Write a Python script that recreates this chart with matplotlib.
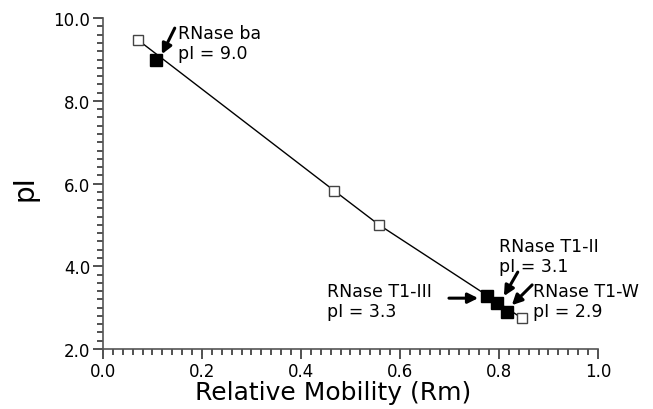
import matplotlib
matplotlib.use("Agg")
import matplotlib.pyplot as plt
from matplotlib.ticker import MultipleLocator, FormatStrFormatter

# Standards (open squares)
std_rm = [0.070, 0.467, 0.558, 0.846]
std_pi = [9.48, 5.83, 5.00, 2.75]

# RNases (filled squares)
rnase_names = ["RNase ba", "RNase T1-III", "RNase T1-II", "RNase T1-W"]
rnase_rm = [0.108, 0.776, 0.797, 0.817]
rnase_pi = [8.98, 3.29, 3.11, 2.89]
rnase_label_pi = ["9.0", "3.3", "3.1", "2.9"]

# annotation placement (text position, arrow tail, arrow tip) in data coords
text_pos = [(0.152, 9.86), (0.452, 3.63), (0.800, 4.70), (0.869, 3.63)]
arrow_tail = [(0.145, 9.76), (0.699, 3.23), (0.838, 3.86), (0.867, 3.55)]
arrow_tip = [(0.119, 9.13), (0.758, 3.23), (0.810, 3.28), (0.826, 3.06)]

fig = plt.figure(figsize=(6.53, 4.10), dpi=100)
ax = fig.add_axes([0.1577, 0.1463, 0.758, 0.8069])

ax.plot(std_rm, std_pi, color="black", lw=1.0, zorder=2)
ax.plot(std_rm, std_pi, ls="none", marker="s", ms=7, mfc="white",
        mec="#444444", mew=1.0, zorder=3)
ax.plot(rnase_rm, rnase_pi, ls="none", marker="s", ms=8, mfc="black",
        mec="black", zorder=4)

for name, lab, tp, tail, tip in zip(rnase_names, rnase_label_pi, text_pos,
                                     arrow_tail, arrow_tip):
    ax.text(tp[0], tp[1], f"{name}\npI = {lab}", fontsize=12.5, va="top",
            ha="left", linespacing=1.15, zorder=5)
    ax.annotate("", xy=tip, xytext=tail,
                arrowprops=dict(arrowstyle="-|>,head_length=0.6,head_width=0.3",
                                lw=2.2, color="black", shrinkA=0, shrinkB=0))

ax.set_xlim(0, 1.0)
ax.set_ylim(2.0, 10.0)
ax.xaxis.set_major_locator(MultipleLocator(0.2))
ax.xaxis.set_minor_locator(MultipleLocator(0.02))
ax.yaxis.set_major_locator(MultipleLocator(2.0))
ax.yaxis.set_minor_locator(MultipleLocator(0.2))
ax.xaxis.set_major_formatter(FormatStrFormatter("%.1f"))
ax.yaxis.set_major_formatter(FormatStrFormatter("%.1f"))

for s in ["top", "right"]:
    ax.spines[s].set_visible(False)
for s in ["left", "bottom"]:
    ax.spines[s].set_color("#555555")
    ax.spines[s].set_linewidth(1.2)

ax.tick_params(which="major", direction="out", length=7, width=1.2,
               labelsize=12, color="#333333", pad=2)
ax.tick_params(which="minor", direction="out", length=4, width=1.2,
               color="#333333")

ax.set_xlabel("Relative Mobility (Rm)", fontsize=18)
ax.xaxis.set_label_coords(0.465, -0.094)
ax.set_ylabel("pI", fontsize=20)
ax.yaxis.set_label_coords(-0.13, 0.49)

fig.savefig("out.png", dpi=100)
